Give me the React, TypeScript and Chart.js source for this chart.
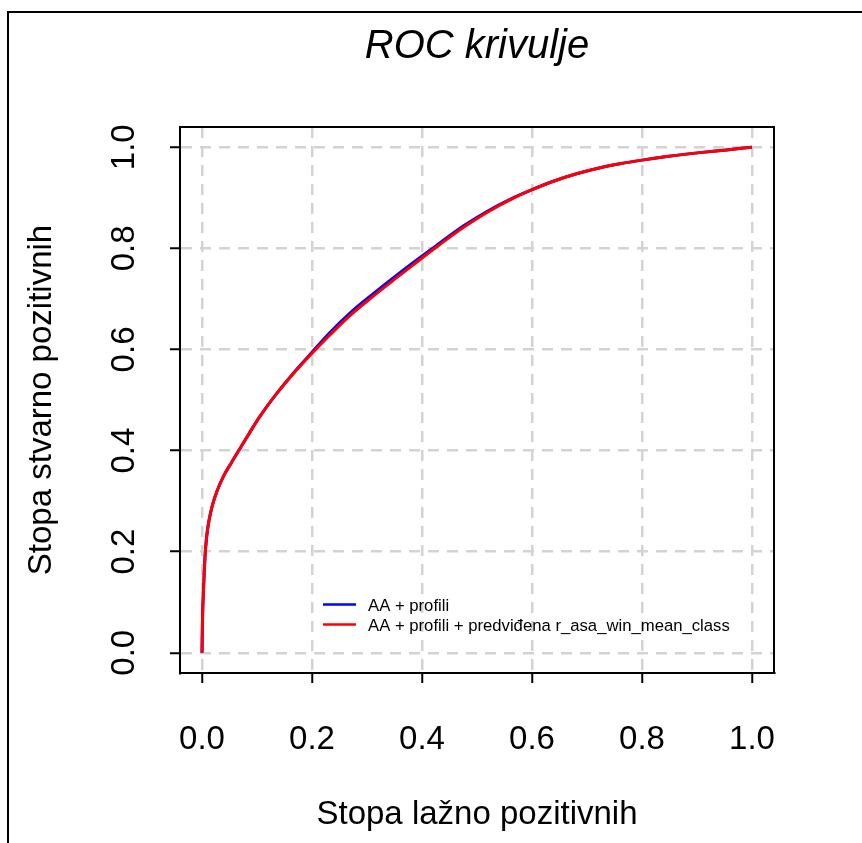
import React, { useEffect, useRef } from "react";
import { Chart, registerables } from "chart.js";

Chart.register(...registerables);

const TITLE = "ROC krivulje";
const X_TITLE = "Stopa lažno pozitivnih";
const Y_TITLE = "Stopa stvarno pozitivnih";
const TICKS = [0, 0.2, 0.4, 0.6, 0.8, 1.0];
const SERIES_NAMES = ["AA + profili", "AA + profili + predviđena r_asa_win_mean_class"];
const SERIES_COLORS = ["#0000ff", "#ff0000"];

const FPR = [0, 0.001, 0.003, 0.0055, 0.0085, 0.013, 0.019, 0.027, 0.039, 0.054, 0.069, 0.087, 0.105, 0.136, 0.166, 0.198, 0.233, 0.269, 0.311, 0.354, 0.399, 0.433, 0.475, 0.518, 0.56, 0.599, 0.639, 0.681, 0.724, 0.76, 0.8, 0.845, 0.905, 0.954, 1.0];
const TPR_BLUE = [0, 0.071, 0.131, 0.19, 0.23, 0.263, 0.292, 0.319, 0.349, 0.377, 0.404, 0.436, 0.467, 0.513, 0.553, 0.592, 0.634, 0.672, 0.710, 0.747, 0.784, 0.811, 0.844, 0.873, 0.897, 0.9155, 0.9327, 0.9474, 0.9594, 0.9673, 0.9745, 0.9815, 0.9893, 0.9947, 1.0];
const TPR_RED = [0, 0.071, 0.131, 0.19, 0.23, 0.263, 0.292, 0.319, 0.349, 0.377, 0.404, 0.436, 0.467, 0.513, 0.552, 0.590, 0.629, 0.667, 0.705, 0.742, 0.780, 0.808, 0.841, 0.871, 0.896, 0.9155, 0.9327, 0.9474, 0.9594, 0.9673, 0.9745, 0.9815, 0.9893, 0.9947, 1.0];

const FONT = "'Liberation Sans', Arial, Helvetica, sans-serif";
const W = 862;
const H = 843;

const framePlugin = {
  id: "framePlugin",
  afterDraw(chart: any) {
    const ctx = chart.ctx;
    const a = chart.chartArea;
    ctx.save();
    ctx.strokeStyle = "#000";
    ctx.lineWidth = 2;
    ctx.setLineDash([]);
    ctx.strokeRect(a.left, a.top, a.right - a.left, a.bottom - a.top);
    // outer figure frame
    ctx.beginPath();
    ctx.moveTo(8, H);
    ctx.lineTo(8, 12);
    ctx.lineTo(W, 12);
    ctx.stroke();
    // legend
    const lx = a.left + 143;
    const ly = a.top + 477.5;
    ctx.font = `16.7px ${FONT}`;
    ctx.textBaseline = "middle";
    ctx.textAlign = "left";
    SERIES_NAMES.forEach((name, i) => {
      const y = ly + i * 20;
      ctx.strokeStyle = SERIES_COLORS[i];
      ctx.lineWidth = 2.5;
      ctx.beginPath();
      ctx.moveTo(lx, y);
      ctx.lineTo(lx + 33, y);
      ctx.stroke();
      ctx.fillStyle = "#000";
      ctx.fillText(name, lx + 45, y + 2);
    });
    ctx.restore();
  },
};

const setTicks = (scale: any) => {
  scale.ticks = TICKS.map((v) => ({ value: v }));
};

export default function App() {
  const ref = useRef<HTMLCanvasElement | null>(null);
  useEffect(() => {
    if (!ref.current) return;
    const chart = new Chart(ref.current, {
      type: "scatter",
      data: {
        datasets: [
          {
            label: SERIES_NAMES[0],
            data: FPR.map((x, i) => ({ x, y: TPR_BLUE[i] })),
            borderColor: SERIES_COLORS[0],
            backgroundColor: SERIES_COLORS[0],
            showLine: true,
            borderWidth: 3,
            pointRadius: 0,
            cubicInterpolationMode: "monotone",
            order: 2,
          },
          {
            label: SERIES_NAMES[1],
            data: FPR.map((x, i) => ({ x, y: TPR_RED[i] })),
            borderColor: SERIES_COLORS[1],
            backgroundColor: SERIES_COLORS[1],
            showLine: true,
            borderWidth: 3,
            pointRadius: 0,
            cubicInterpolationMode: "monotone",
            order: 1,
          },
        ],
      },
      options: {
        animation: false,
        responsive: false,
        devicePixelRatio: 1,
        layout: { padding: { left: 0, top: 0, right: 88, bottom: 0 } },
        plugins: {
          legend: { display: false },
          tooltip: { enabled: false },
          title: {
            display: true,
            text: TITLE,
            fullSize: false,
            color: "#000",
            font: { family: FONT, size: 40, style: "italic", weight: "normal" },
            padding: { top: 23, bottom: 56 },
          },
        },
        scales: {
          x: {
            type: "linear",
            min: -0.04,
            max: 1.04,
            afterBuildTicks: setTicks,
            afterFit: (s: any) => {
              s.height = 170;
            },
            ticks: {
              color: "#000",
              font: { family: FONT, size: 33 },
              padding: 37,
              maxRotation: 0,
              minRotation: 0,
              callback: (v: any) => Number(v).toFixed(1),
            },
            grid: {
              color: "#d3d3d3",
              lineWidth: 2.5,
              drawTicks: true,
              tickLength: 10,
              tickColor: "#000",
              tickWidth: 2,
            },
            border: { display: true, color: "#000", width: 2, dash: [11, 8] },
            title: {
              display: true,
              text: X_TITLE,
              color: "#000",
              font: { family: FONT, size: 33 },
              padding: { top: 0, bottom: 8 },
            },
          },
          y: {
            type: "linear",
            min: -0.04,
            max: 1.04,
            afterBuildTicks: setTicks,
            afterFit: (s: any) => {
              s.width = 180;
            },
            ticks: {
              color: "#000",
              font: { family: FONT, size: 33 },
              padding: 22,
              minRotation: 90,
              maxRotation: 90,
              crossAlign: "center",
              callback: (v: any) => Number(v).toFixed(1),
            },
            grid: {
              color: "#d3d3d3",
              lineWidth: 2.5,
              drawTicks: true,
              tickLength: 10,
              tickColor: "#000",
              tickWidth: 2,
            },
            border: { display: true, color: "#000", width: 2, dash: [11, 8] },
            title: {
              display: true,
              text: Y_TITLE,
              color: "#000",
              font: { family: FONT, size: 33 },
              padding: { top: 22, bottom: 0 },
            },
          },
        },
      } as any,
      plugins: [framePlugin],
    });
    return () => chart.destroy();
  }, []);
  return (
    <div style={{ position: "fixed", left: 0, top: 0, width: W, height: H, background: "#fff" }}>
      <canvas ref={ref} width={W} height={H} style={{ width: W, height: H, display: "block" }} />
    </div>
  );
}
